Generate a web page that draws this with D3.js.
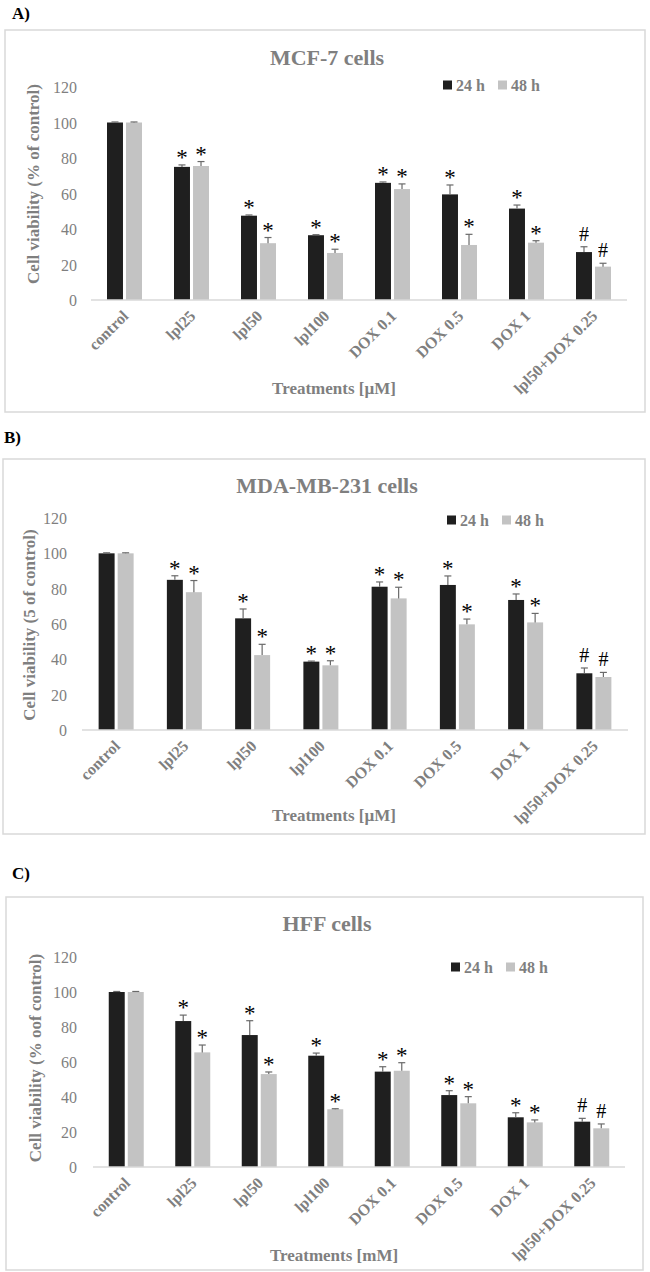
<!DOCTYPE html>
<html>
<head>
<meta charset="utf-8">
<script src="https://cdn.jsdelivr.net/npm/d3@7"></script>
<style>
  html, body { margin: 0; padding: 0; background: #ffffff; }
  svg { display: block; }
  text { font-family: "Liberation Serif", "Times New Roman", serif; }
  text.mark { opacity: 0.99; }
</style>
</head>
<body>
<svg id="chart" width="650" height="1272"></svg>
<script>
// ---------------- data ----------------
const categories = ["control", "lpl25", "lpl50", "lpl100", "DOX 0.1", "DOX 0.5", "DOX 1", "lpl50+DOX 0.25"];
const seriesNames = ["24 h", "48 h"];
const yTicks = [0, 20, 40, 60, 80, 100, 120];
const markers = ["", "*", "*", "*", "*", "*", "*", "#"];

const mcf7_24h     = [100, 75, 47.5, 36.5, 66, 59.5, 51.5, 27];
const mcf7_24h_err = [0.3, 1.1, 0.4, 0.3, 0.5, 5.3, 2, 3];
const mcf7_48h     = [100, 75.5, 32, 26.5, 62.5, 31, 32.3, 18.8];
const mcf7_48h_err = [0.3, 2.5, 3.2, 2.1, 2.9, 6, 1.1, 1.9];

const mda_24h      = [100, 85, 63.2, 38.7, 81.1, 82.1, 73.6, 32.1];
const mda_24h_err  = [0.3, 2.3, 5.3, 0.3, 2.7, 5.1, 3.4, 3];
const mda_48h      = [100, 78, 42.4, 36.6, 74.5, 59.8, 60.9, 30];
const mda_48h_err  = [0.3, 6.6, 6.1, 2.6, 6.3, 3, 5.1, 2.6];

const hff_24h      = [100, 83.4, 75.4, 63.6, 54.5, 41.1, 28.4, 25.9];
const hff_24h_err  = [0.3, 3.4, 8.2, 1.5, 2.8, 2.5, 2.6, 1.9];
const hff_48h      = [100, 65.5, 53.1, 33, 55, 36.4, 25.5, 22.1];
const hff_48h_err  = [0.3, 4.2, 1.2, 0.3, 4.6, 3.8, 1.4, 2.5];

const panelLetters = ["A)", "B)", "C)"];
const panelTitles = ["MCF-7 cells", "MDA-MB-231 cells", "HFF cells"];
const yTitles = ["Cell viability (% of control)", "Cell viability (5 of control)", "Cell viability (% oof control)"];
const xTitles = ["Treatments [\u00B5M]", "Treatments [\u00B5M]", "Treatments [mM]"];

// ---------------- layout ----------------
const layouts = [
  { letterX: 12, letterY: 19, box: [5, 30, 640, 382], titleY: 57, legendX: 443, legendY: 85,
    yRange: [300, 87], xRange: [91, 627], yTickX: 77, yTitleX: 33, yTitleY: 184, xTitleY: 388 },
  { letterX: 4, letterY: 443, box: [3, 459, 642, 375], titleY: 485, legendX: 447, legendY: 520,
    yRange: [730, 518], xRange: [82, 628], yTickX: 67, yTitleX: 29, yTitleY: 625, xTitleY: 815 },
  { letterX: 12, letterY: 879, box: [6, 897, 637, 373], titleY: 923, legendX: 451, legendY: 967,
    yRange: [1167, 957], xRange: [93, 625], yTickX: 77, yTitleX: 35, yTitleY: 1058, xTitleY: 1255 }
];

const panelData = [
  [[mcf7_24h, mcf7_24h_err], [mcf7_48h, mcf7_48h_err]],
  [[mda_24h, mda_24h_err], [mda_48h, mda_48h_err]],
  [[hff_24h, hff_24h_err], [hff_48h, hff_48h_err]]
];

const colors = d3.scaleOrdinal().domain(seriesNames).range(["#1f1f1f", "#c3c3c3"]);
const textGray = "#7f7f7f";
const svg = d3.select("#chart");

layouts.forEach((L, p) => {
  const g = svg.append("g");

  g.append("text").attr("x", L.letterX).attr("y", L.letterY)
    .attr("font-size", 17).attr("font-weight", "bold").attr("fill", "#000")
    .text(panelLetters[p]);

  g.append("rect").attr("x", L.box[0]).attr("y", L.box[1]).attr("width", L.box[2]).attr("height", L.box[3])
    .attr("fill", "#fff").attr("stroke", "#d9d9d9").attr("stroke-width", 1.5);

  g.append("text").attr("x", 327).attr("y", L.titleY)
    .attr("text-anchor", "middle").attr("dominant-baseline", "central")
    .attr("font-size", 22).attr("font-weight", "bold").attr("fill", textGray)
    .text(panelTitles[p]);

  const y = d3.scaleLinear().domain([0, 120]).range(L.yRange);
  const x0 = d3.scaleBand().domain(categories).range(L.xRange).paddingInner(0).paddingOuter(0);
  const pairW = 35;
  const x1 = d3.scaleBand().domain(seriesNames).range([0, pairW]).paddingInner(0.16).paddingOuter(0);

  const yAxis = d3.axisLeft(y).tickValues(yTicks).tickSize(0).tickPadding(0);
  const ya = g.append("g").attr("transform", `translate(${L.yTickX},0)`).call(yAxis);
  ya.select(".domain").remove();
  ya.selectAll("text").attr("font-size", 16).attr("fill", textGray)
    .attr("font-family", "'Liberation Serif', 'Times New Roman', serif").attr("dy", "0.35em");

  g.append("text")
    .attr("transform", `translate(${L.yTitleX},${L.yTitleY}) rotate(-90)`)
    .attr("text-anchor", "middle").attr("dominant-baseline", "central")
    .attr("font-size", 17).attr("font-weight", "bold").attr("fill", textGray)
    .text(yTitles[p]);

  const series = seriesNames.map((s, si) => ({
    name: s,
    values: categories.map((c, ci) => ({ cat: c, ci, v: panelData[p][si][0][ci], e: panelData[p][si][1][ci] }))
  }));
  const bx = (s, d) => x0(d.cat) + (x0.bandwidth() - pairW) / 2 + x1(s.name);

  series.forEach(s => {
    const sg = g.append("g");
    sg.selectAll("rect").data(s.values).join("rect")
      .attr("x", d => bx(s, d)).attr("width", x1.bandwidth())
      .attr("y", d => y(d.v)).attr("height", d => y(0) - y(d.v))
      .attr("fill", colors(s.name));
    const eg = sg.selectAll("g.err").data(s.values).join("g").attr("class", "err");
    eg.append("line")
      .attr("x1", d => bx(s, d) + x1.bandwidth() / 2).attr("x2", d => bx(s, d) + x1.bandwidth() / 2)
      .attr("y1", d => y(d.v)).attr("y2", d => y(d.v + d.e))
      .attr("stroke", "#6a6a6a").attr("stroke-width", 1.2);
    eg.append("line")
      .attr("x1", d => bx(s, d) + x1.bandwidth() / 2 - 3.5).attr("x2", d => bx(s, d) + x1.bandwidth() / 2 + 3.5)
      .attr("y1", d => y(d.v + d.e)).attr("y2", d => y(d.v + d.e))
      .attr("stroke", "#6a6a6a").attr("stroke-width", 1.2);
    sg.selectAll("text.mark").data(s.values.filter(d => markers[d.ci] !== "")).join("text")
      .attr("class", "mark")
      .attr("x", d => bx(s, d) + x1.bandwidth() / 2)
      .attr("y", d => y(d.v + d.e) - 13)
      .attr("text-anchor", "middle").attr("dominant-baseline", "central")
      .attr("font-size", d => markers[d.ci] === "#" ? 20 : 23).attr("fill", "#000")
      .attr("dy", d => markers[d.ci] === "*" ? "0.24em" : "0")
      .text(d => markers[d.ci]);
  });

  g.append("line").attr("x1", L.xRange[0]).attr("x2", L.xRange[1])
    .attr("y1", y(0)).attr("y2", y(0)).attr("stroke", "#d9d9d9").attr("stroke-width", 1.5);

  g.selectAll("text.xl").data(categories).join("text").attr("class", "xl")
    .attr("transform", d => `translate(${x0(d) + x0.bandwidth() / 2 + 5},${y(0) + 17}) rotate(-45)`)
    .attr("text-anchor", "end")
    .attr("font-size", 16).attr("font-weight", "bold").attr("fill", textGray)
    .text(d => d);

  g.append("text").attr("x", 334).attr("y", L.xTitleY)
    .attr("text-anchor", "middle").attr("dominant-baseline", "central")
    .attr("font-size", 17).attr("font-weight", "bold").attr("fill", textGray)
    .text(xTitles[p]);

  const lg = g.append("g").attr("transform", `translate(${L.legendX},${L.legendY})`);
  seriesNames.forEach((s, i) => {
    const off = i * 55;
    lg.append("rect").attr("x", off).attr("y", -4.5).attr("width", 9).attr("height", 9).attr("fill", colors(s));
    lg.append("text").attr("x", off + 13).attr("y", 0).attr("dominant-baseline", "central")
      .attr("font-size", 16).attr("font-weight", "bold").attr("fill", textGray).text(s);
  });
});
</script>
</body>
</html>
